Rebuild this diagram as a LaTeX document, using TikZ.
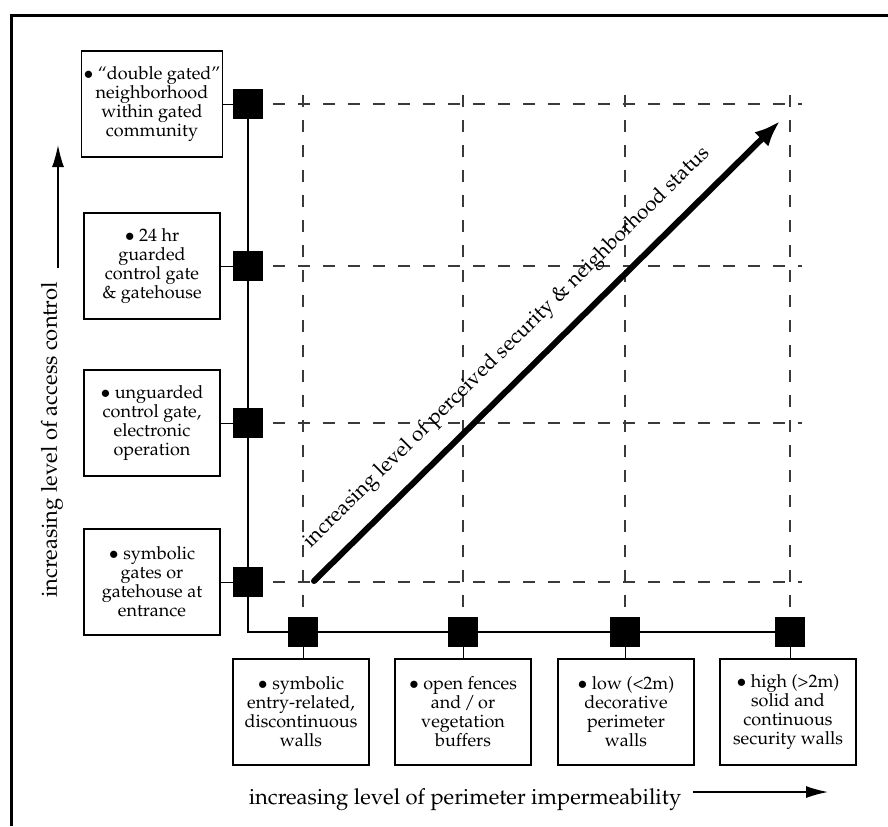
\documentclass[tikz,border=0pt]{standalone}
\usepackage[T1]{fontenc}
\usepackage{mathpazo}
\usepackage{tikz}
\usetikzlibrary{arrows.meta,calc}
\definecolor{GridGray}{HTML}{3a3a3a}

\tikzset{
    levelbox/.style={draw, line width=0.7pt, align=center, minimum width=68pt, minimum height=53pt, inner sep=1pt, font=\fontsize{9}{9.5}\selectfont},
    marker/.style={fill=black, minimum size=15pt, inner sep=0pt},
    griddash/.style={GridGray, line width=0.6pt, dash pattern=on 6pt off 6.5pt},
    axisline/.style={line width=1pt},
    axislabel/.style={font=\fontsize{11}{12}\selectfont},
    diaglabelstyle/.style={font=\fontsize{10.5}{12}\selectfont},
}

\begin{document}
\begin{tikzpicture}[x=0.5pt,y=-0.5pt]
    \useasboundingbox (0,0) rectangle (888,826);
    \draw[line width=1.5pt] (11,826) -- (11,15) -- (888,15);

    \coordinate (O) at (248,632);
    \coordinate (a1) at (248,582);
    \coordinate (a2) at (248,423);
    \coordinate (a3) at (248,266);
    \coordinate (a4) at (248,104);
    \coordinate (b1) at (303,632);
    \coordinate (b2) at (463,632);
    \coordinate (b3) at (625,632);
    \coordinate (b4) at (790,632);
    \coordinate (E) at (802,0);
    \coordinate (T) at (0,92);

    \draw[griddash] (a1) -- (a1 -| E);
    \draw[griddash] (a2) -- (a2 -| E);
    \draw[griddash] (a3) -- (a3 -| E);
    \draw[griddash] (a4) -- (a4 -| E);
    \draw[griddash] (b1) -- (b1 |- T);
    \draw[griddash] (b2) -- (b2 |- T);
    \draw[griddash] (b3) -- (b3 |- T);
    \draw[griddash] (b4) -- (b4 |- T);

    \draw[axisline] (a4) -- (O) -- (b4);

    \node[marker] (A1) at (a1) {};
    \node[marker] (A2) at (a2) {};
    \node[marker] (A3) at (a3) {};
    \node[marker] (A4) at (a4) {};
    \node[marker] (B1) at (b1) {};
    \node[marker] (B2) at (b2) {};
    \node[marker] (B3) at (b3) {};
    \node[marker] (B4) at (b4) {};

    \node[levelbox] (LA1) at ($(a1)+(-96,0)$) {$\bullet$ symbolic\\gates or\\gatehouse at\\entrance};
    \node[levelbox] (LA2) at ($(a2)+(-96,0)$) {$\bullet$ unguarded\\control gate,\\electronic\\operation};
    \node[levelbox] (LA3) at ($(a3)+(-96,0)$) {$\bullet$ 24 hr\\guarded\\control gate\\\& gatehouse};
    \node[levelbox] (LA4) at ($(a4)+(-96,0)$) {$\bullet$ ``double gated''\\neighborhood\\within gated\\community};

    \node[levelbox] (LB1) at ($(b1)+(-2,80)$) {$\bullet$ symbolic\\entry-related,\\discontinuous\\walls};
    \node[levelbox] (LB2) at ($(b2)+(0,80)$) {$\bullet$ open fences\\and\,/\,or\\vegetation\\buffers};
    \node[levelbox] (LB3) at ($(b3)+(1,80)$) {$\bullet$ low (<2m)\\decorative\\perimeter\\walls};
    \node[levelbox] (LB4) at ($(b4)+(-2,80)$) {$\bullet$ high (>2m)\\solid and\\continuous\\security walls};

    \draw (LA1) -- (A1);
    \draw (LA2) -- (A2);
    \draw (LA3) -- (A3);
    \draw (LA4) -- (A4);
    \draw (B1) -- (B1 |- LB1.north);
    \draw (B2) -- (B2 |- LB2.north);
    \draw (B3) -- (B3 |- LB3.north);
    \draw (B4) -- (B4 |- LB4.north);

    \coordinate (lo) at (314,581);
    \coordinate (hi) at (780,121);
    \draw[line width=3pt, line cap=round, -{Latex[length=13pt,width=10pt]}] (lo) -- (hi)
        node[pos=0.46, sloped, above=5pt, diaglabelstyle] (diaglabel) {increasing level of perceived security \& neighborhood status};

    \node[axislabel, rotate=90] (ylabel) at (52,440) {increasing level of access control};
    \coordinate (yfrom) at (58,268);
    \coordinate (yto) at (58,145);
    \draw[line width=0.7pt, -{Latex[length=11pt,width=6pt]}] (yfrom) -- (yto);

    \node[axislabel] (xlabel) at (465,800) {increasing level of perimeter impermeability};
    \coordinate (xfrom) at (693,792);
    \coordinate (xto) at (828,792);
    \draw[line width=0.7pt, -{Latex[length=11pt,width=6pt]}] (xfrom) -- (xto);
\end{tikzpicture}
\end{document}
